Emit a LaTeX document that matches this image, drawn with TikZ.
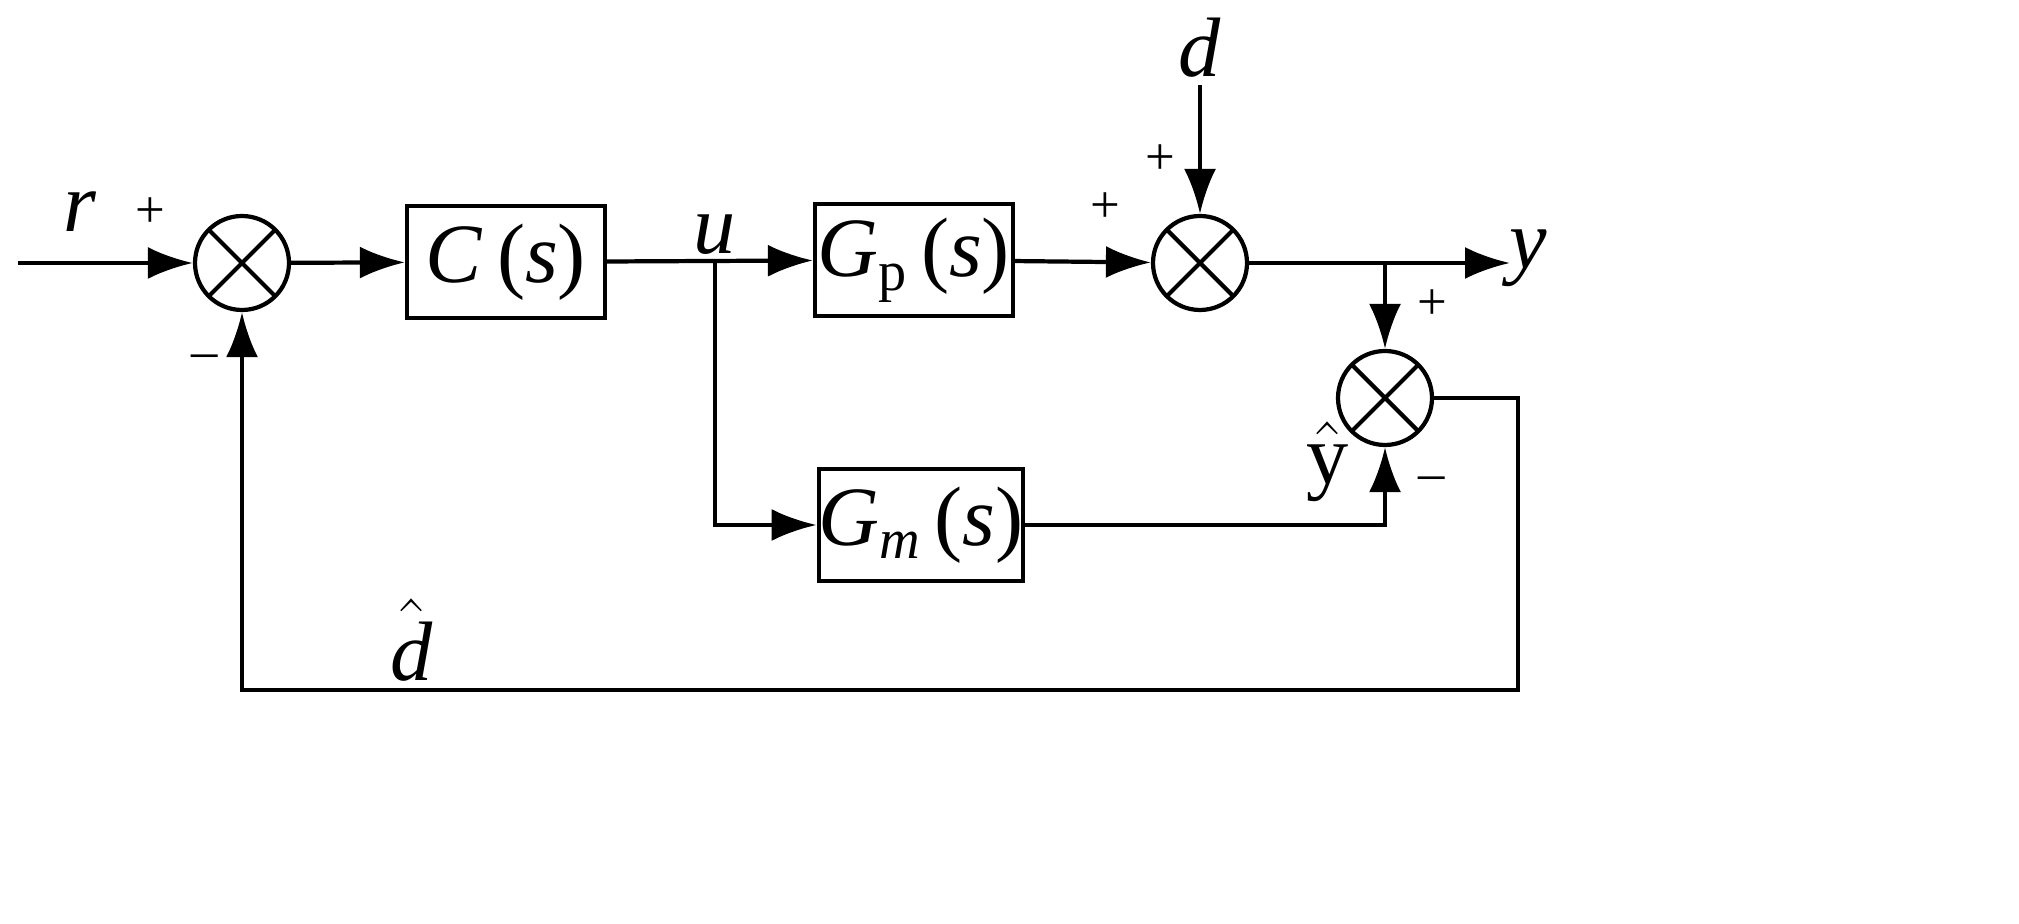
\documentclass[tikz,border=0pt]{standalone}
\usepackage{fontspec}
\setmainfont{Liberation Serif}
\usetikzlibrary{arrows.meta}
\newcommand{\iv}[1]{\textit{#1}}
\begin{document}
\begin{tikzpicture}[x=0.1mm,y=-0.1mm,line width=1.2pt,
  every node/.style={font=\fontsize{24}{28}\selectfont},
  sum/.style={circle,draw,minimum size=9.4mm,inner sep=0pt,
    path picture={\draw (path picture bounding box.north west)--(path picture bounding box.south east)
      (path picture bounding box.north east)--(path picture bounding box.south west);}},
  blk/.style={draw,minimum width=19.8mm,minimum height=11.2mm,inner sep=0pt},
  arr/.style={-{Latex[length=4.5mm,width=3.2mm]}},
  sg/.style={font=\fontsize{15}{18}\selectfont}]
\useasboundingbox (0,0) rectangle (2019,924);
\node[sum] (s1) at (242,263) {};
\node[blk] (C) at (506,262) {\iv{C}\,(\iv{s})};
\node[blk] (Gp) at (914,260) {\iv{G}\raisebox{-0.35ex}{\fontsize{16}{18}\selectfont p}\,(\iv{s})};
\node[sum] (s2) at (1200,263) {};
\node[sum] (s3) at (1385,398) {};
\node[blk] (Gm) at (921,525) {\iv{G}\raisebox{-0.35ex}{\fontsize{16}{18}\selectfont\iv{m}}\,(\iv{s})};
\coordinate (in) at (18,263);
\coordinate (dtop) at (1200,85);
\coordinate (yout) at (1510,263);
\coordinate (bu) at (715,263);
\coordinate (by) at (1385,263);
\coordinate (r1) at (1518,398);
\coordinate (r2) at (1518,690);
\coordinate (l2) at (242,690);
\draw[arr] (in) -- (s1);
\draw[arr] (s1) -- (C);
\draw[arr] (C) -- (Gp);
\draw[arr] (Gp) -- (s2);
\draw[arr] (dtop) -- (s2);
\draw[arr] (s2) -- (yout);
\draw[arr] (by) -- (s3);
\draw[arr] (bu) |- (Gm);
\draw[arr] (Gm) -| (s3);
\draw[arr] (s3) -- (r1) -- (r2) -- (l2) -- (s1);
\node at (80,212) {\iv{r}};
\node at (715,235) {\iv{u}};
\node at (1200,48) {\iv{d}};
\node at (1528,258) {\iv{y}};
\node at (1328,462) {$\hat{\mbox{y}}$};
\node at (412,640) {$\hat{\mbox{\iv{d}}}$};
\node[sg] at (150,213) {+};
\node[sg] at (205,362) {–};
\node[sg] at (1160,160) {+};
\node[sg] at (1105,208) {+};
\node[sg] at (1432,305) {+};
\node[sg] at (1432,484) {–};
\end{tikzpicture}
\end{document}
